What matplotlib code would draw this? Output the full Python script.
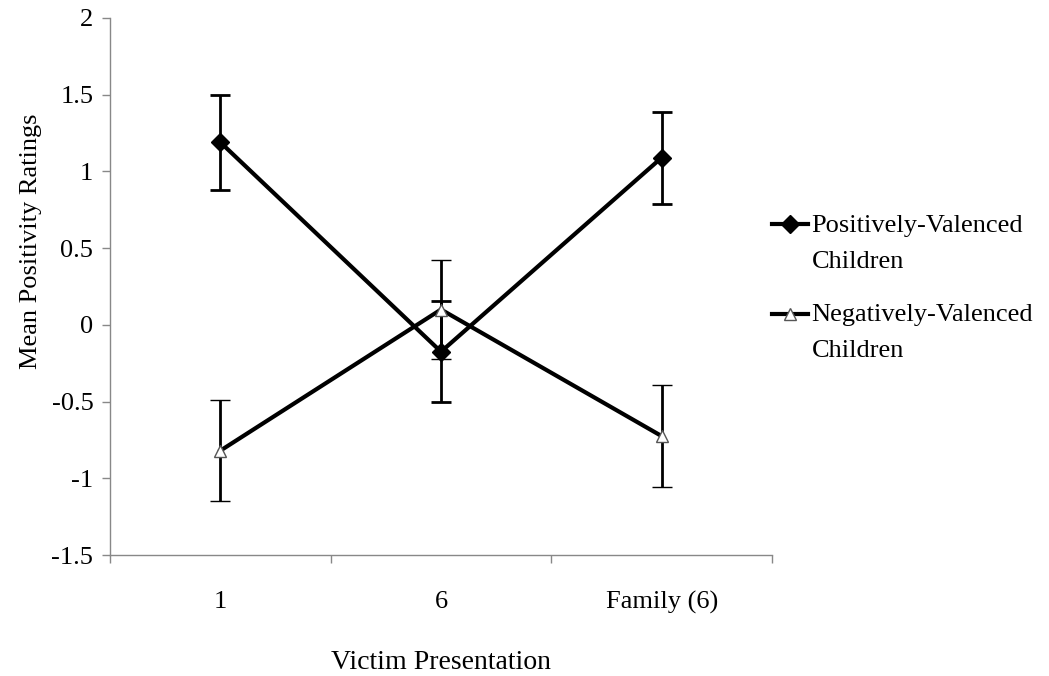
import matplotlib
matplotlib.use("Agg")
import matplotlib.pyplot as plt
from matplotlib.lines import Line2D

categories = ["1", "6", "Family (6)"]
pos_means = [1.19, -0.175, 1.09]
pos_err = [0.31, 0.33, 0.30]
neg_means = [-0.82, 0.10, -0.725]
neg_err = [0.33, 0.32, 0.335]

plt.rcParams['font.family'] = ['Liberation Serif', 'DejaVu Serif']

fig = plt.figure(figsize=(10.49, 6.76), dpi=100)
ax = fig.add_axes([110/1049, 1 - 555/676, (772-110)/1049, (555-18)/676])

x = [1, 2, 3]

pos_style = dict(color='black', lw=3, marker='D', markersize=9, markerfacecolor='black')
neg_style = dict(color='black', lw=3, marker='^', markersize=9, markerfacecolor='white',
                 markeredgecolor='#555555', markeredgewidth=1)

ax.errorbar(x, pos_means, yerr=pos_err, ecolor='black', elinewidth=2, capsize=7,
            capthick=2, zorder=3, **pos_style)
ax.errorbar(x, neg_means, yerr=neg_err, ecolor='black', elinewidth=2, capsize=7,
            capthick=2, zorder=3, **neg_style)

ax.set_xlim(0.5, 3.5)
ax.set_ylim(-1.5, 2)
ax.set_yticks([-1.5, -1, -0.5, 0, 0.5, 1, 1.5, 2])
ax.set_yticklabels(["-1.5", "-1", "-0.5", "0", "0.5", "1", "1.5", "2"])
ax.set_xticks(x)
ax.set_xticklabels(categories)
ax.set_xticks([0.5, 1.5, 2.5, 3.5], minor=True)
ax.tick_params(axis='x', which='major', length=0, pad=26, labelsize=19)
ax.tick_params(axis='x', which='minor', length=6, color='#888888', width=1)
ax.tick_params(axis='y', length=6, color='#888888', width=1, labelsize=19, pad=6)

for s in ['top', 'right']:
    ax.spines[s].set_visible(False)
for s in ['left', 'bottom']:
    ax.spines[s].set_color('#888888')
    ax.spines[s].set_linewidth(1)

ax.set_ylabel("Mean Positivity Ratings", fontsize=19)
ax.yaxis.set_label_coords(-0.102, 0.585)
ax.set_xlabel("Victim Presentation", fontsize=20, labelpad=26)

handles = [Line2D([], [], **pos_style), Line2D([], [], **neg_style)]
labels = ["Positively-Valenced\nChildren", "Negatively-Valenced\nChildren"]
leg = ax.legend(handles, labels, loc='center left', bbox_to_anchor=(1.0, 0.496),
                frameon=False, fontsize=19, handlelength=1.35, handletextpad=0.15,
                labelspacing=1.2, borderaxespad=0, borderpad=0)
for t in leg.get_texts():
    t.set_linespacing(1.8)
# put the legend line next to the first text line, like the original
for column in leg._legend_handle_box.get_children():
    for row in column.get_children():
        row.align = "top"

fig.savefig("out.png", dpi=100)
